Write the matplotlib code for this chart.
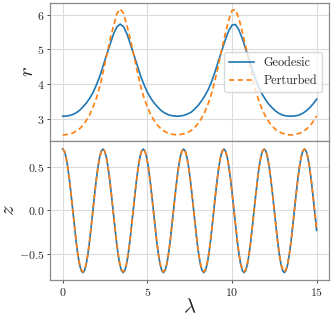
import numpy as np
import matplotlib
matplotlib.use("Agg")
import matplotlib.pyplot as plt

# ---------------- data ----------------
lam_r = [0.0, 0.2, 0.4, 0.6, 0.8, 1.0, 1.2, 1.4, 1.6, 1.8, 2.0, 2.2, 2.4, 2.6, 2.8, 3.0,
         3.2, 3.4, 3.6, 3.8, 4.0, 4.2, 4.4, 4.6, 4.8, 5.0, 5.2, 5.4, 5.6, 5.8, 6.0, 6.2,
         6.4, 6.6, 6.8, 7.0, 7.2, 7.4, 7.6, 7.8, 8.0, 8.2, 8.4, 8.6, 8.8, 9.0, 9.2, 9.4,
         9.6, 9.8, 10.0, 10.2, 10.4, 10.6, 10.8, 11.0, 11.2, 11.4, 11.6, 11.8, 12.0, 12.2,
         12.4, 12.6, 12.8, 13.0, 13.2, 13.4, 13.6, 13.8, 14.0, 14.2, 14.4, 14.6, 14.8, 15.0]

r_geodesic = [3.08, 3.085, 3.10, 3.13, 3.18, 3.25, 3.35, 3.46, 3.60, 3.77, 3.99, 4.24, 4.55,
              4.85, 5.15, 5.44, 5.65, 5.73, 5.65, 5.44, 5.15, 4.85, 4.55, 4.24, 3.99, 3.77,
              3.60, 3.46, 3.35, 3.25, 3.18, 3.13, 3.10, 3.085, 3.08, 3.09, 3.11, 3.15, 3.20,
              3.29, 3.39, 3.52, 3.67, 3.85, 4.08, 4.36, 4.67, 4.97, 5.27, 5.53, 5.70, 5.72,
              5.57, 5.33, 5.03, 4.73, 4.42, 4.14, 3.89, 3.70, 3.54, 3.41, 3.31, 3.22, 3.155,
              3.11, 3.09, 3.08, 3.083, 3.095, 3.12, 3.17, 3.24, 3.33, 3.44, 3.57]

r_perturbed = [2.54, 2.55, 2.57, 2.60, 2.65, 2.72, 2.82, 2.96, 3.13, 3.35, 3.61, 3.95, 4.38,
               4.83, 5.28, 5.68, 6.03, 6.17, 6.03, 5.68, 5.28, 4.83, 4.38, 3.95, 3.61, 3.35,
               3.13, 2.96, 2.82, 2.72, 2.65, 2.60, 2.57, 2.55, 2.54, 2.56, 2.58, 2.62, 2.67,
               2.76, 2.87, 3.02, 3.21, 3.45, 3.74, 4.12, 4.56, 5.01, 5.45, 5.83, 6.12, 6.15,
               5.90, 5.53, 5.10, 4.65, 4.20, 3.81, 3.50, 3.25, 3.06, 2.90, 2.78, 2.69, 2.625,
               2.585, 2.56, 2.54, 2.546, 2.565, 2.59, 2.64, 2.71, 2.80, 2.93, 3.09]

# sample positions for z (about 24 samples per oscillation), last point at lambda = 15
lam_z = list(np.linspace(0.0, 14.975, 152)) + [15.0]

z_geodesic = (
    [0.710, 0.686, 0.615, 0.502, 0.355, 0.184, 0.000, -0.184, -0.358, -0.507, -0.624, -0.696,
     -0.720, -0.696, -0.624, -0.507, -0.358, -0.184, 0.000, 0.184, 0.355, 0.502, 0.615, 0.686] * 6
    + [0.710, 0.686, 0.615, 0.502, 0.355, 0.184, 0.000, -0.184, -0.23]
)

z_perturbed = (
    [0.710, 0.686, 0.615, 0.502, 0.355, 0.184, 0.000, -0.184, -0.355, -0.502, -0.615, -0.686,
     -0.710, -0.686, -0.615, -0.502, -0.355, -0.184, 0.000, 0.184, 0.355, 0.502, 0.615, 0.686] * 6
    + [0.710, 0.686, 0.615, 0.502, 0.355, 0.184, 0.000, -0.184, -0.23]
)

x_ticks = [0, 5, 10, 15]
r_ticks = [3, 4, 5, 6]
z_ticks = [-0.5, 0.0, 0.5]
labels = ["Geodesic", "Perturbed"]

# ---------------- style ----------------
plt.rcParams.update({
    "font.family": "serif",
    "font.serif": ["cmr10", "DejaVu Serif"],
    "mathtext.fontset": "cm",
    "axes.formatter.use_mathtext": True,
    "axes.unicode_minus": True,
})

spine_c = "#8c8c8c"
grid_c = "#dcdcdc"
text_c = "#262626"
blue = "#1f77b4"
orange = "#ff7f0e"

fig, (ax1, ax2) = plt.subplots(2, 1, sharex=True, figsize=(3.32, 3.16), dpi=100)
fig.subplots_adjust(left=0.1506, right=0.992, top=0.992, bottom=0.114, hspace=0.0)

ax1.plot(lam_r, r_geodesic, color=blue, lw=1.2, label=labels[0])
ax1.plot(lam_r, r_perturbed, color=orange, lw=1.2, ls=(0, (3.2, 2.0)), label=labels[1])
ax2.plot(lam_z, z_geodesic, color=blue, lw=1.2)
ax2.plot(lam_z, z_perturbed, color=orange, lw=1.2, ls=(0, (3.2, 2.0)))

ax1.set_ylim(2.36, 6.35)
ax2.set_ylim(-0.805, 0.80)
ax2.set_xticks(x_ticks)
ax1.set_yticks(r_ticks)
ax2.set_yticks(z_ticks)

for ax in (ax1, ax2):
    ax.grid(True, color=grid_c, lw=0.8)
    ax.set_axisbelow(True)
    for s in ax.spines.values():
        s.set_color(spine_c)
        s.set_linewidth(0.9)
    ax.tick_params(axis="both", which="major", labelsize=8.5, length=2.5, width=0.7,
                   color="#444444", labelcolor=text_c, pad=1.5)

ax1.tick_params(axis="x", length=0)
ax1.set_ylabel(r"$r$", fontsize=15, color=text_c)
ax2.set_ylabel(r"$z$", fontsize=15, color=text_c)
ax1.yaxis.set_label_coords(-0.045, 0.5)
ax2.yaxis.set_label_coords(-0.113, 0.5)
ax2.set_xlabel(r"$\lambda$", fontsize=15, color=text_c, labelpad=0)

leg = ax1.legend(loc="center right", fontsize=8.8, frameon=True, framealpha=0.8,
                 edgecolor="#d0d0d0", borderaxespad=0.6)
for t in leg.get_texts():
    t.set_color(text_c)

fig.savefig("out.png", dpi=100)
